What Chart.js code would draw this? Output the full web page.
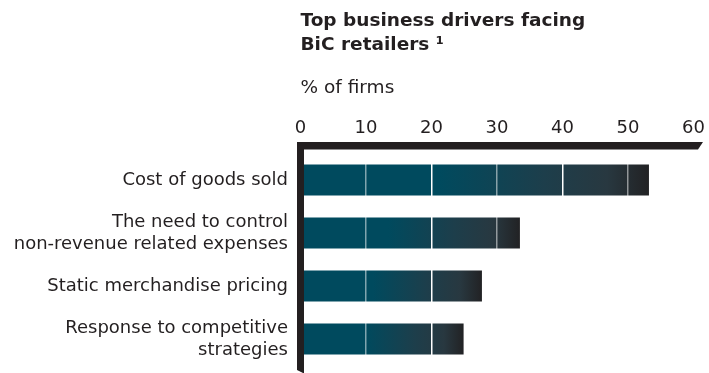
<!DOCTYPE html>
<html>
<head>
<meta charset="utf-8">
<script src="https://cdn.jsdelivr.net/npm/chart.js@4"></script>
<style>
  html, body { margin: 0; padding: 0; background: #fff; }
  #wrap { width: 709px; height: 373px; position: relative; }
</style>
</head>
<body>
<div id="wrap"><canvas id="c" width="709" height="373"></canvas></div>
<script>
// Survey results: share of firms citing each driver
const categories = [
  ['Cost of goods sold'],
  ['The need to control', 'non-revenue related expenses'],
  ['Static merchandise pricing'],
  ['Response to competitive', 'strategies']
];
const shares = [53.2, 33.5, 27.7, 24.9];
const tickValues = [0, 10, 20, 30, 40, 50, 60];

const INK = '#231f20';
const TEAL = '#004a5e';
const DARK = '#222224';
const FONT = "'DejaVu Sans', sans-serif";

// Teal-to-charcoal fill that runs along each bar's own length
function barFill(context) {
  const chart = context.chart;
  const x = chart.scales && chart.scales.x;
  if (!chart.chartArea || !x) return TEAL;
  const v = context.raw;
  const x0 = x.getPixelForValue(0);
  const x1 = x.getPixelForValue(v);
  const g = chart.ctx.createLinearGradient(x0, 0, x1, 0);
  g.addColorStop(0, TEAL);
  g.addColorStop(0.4, TEAL);
  g.addColorStop(0.7, '#1d3e4b');
  g.addColorStop(0.88, '#283840');
  g.addColorStop(1, DARK);
  return g;
}

// Heavy L-shaped frame along the top and left edges of the plot
const frame = {
  id: 'frame',
  afterDraw(chart) {
    const { ctx, chartArea: a } = chart;
    const l = a.left - 3.5, r = a.left + 3.5;
    const top = a.top - 11.5, bot = a.top - 4;
    ctx.save();
    ctx.fillStyle = INK;
    // horizontal bar with angled right end
    ctx.beginPath();
    ctx.moveTo(l, top);
    ctx.lineTo(a.right + 9.5, top);
    ctx.lineTo(a.right + 4.5, bot);
    ctx.lineTo(l, bot);
    ctx.closePath();
    ctx.fill();
    // vertical bar with angled foot
    ctx.beginPath();
    ctx.moveTo(l, top);
    ctx.lineTo(r, top);
    ctx.lineTo(r, a.bottom + 8);
    ctx.lineTo(l, a.bottom + 4.5);
    ctx.closePath();
    ctx.fill();
    ctx.restore();
  }
};

new Chart(document.getElementById('c'), {
  type: 'bar',
  data: {
    labels: categories,
    datasets: [{
      data: shares,
      backgroundColor: barFill,
      borderWidth: 0,
      barPercentage: 0.585,
      categoryPercentage: 1
    }]
  },
  options: {
    indexAxis: 'y',
    responsive: false,
    animation: false,
    layout: { padding: { top: 0, left: 0, right: 15.5, bottom: 7.5 } },
    plugins: {
      legend: { display: false },
      tooltip: { enabled: false },
      title: {
        display: true,
        fullSize: false,
        align: 'start',
        text: ['Top business drivers facing', 'BiC retailers \u00B9'],
        color: INK,
        font: { family: FONT, size: 18.5, weight: 'bold', lineHeight: 24.5 / 18.5 },
        padding: { top: 8.5, bottom: 0 }
      },
      subtitle: {
        display: true,
        fullSize: false,
        align: 'start',
        text: '% of firms',
        color: INK,
        font: { family: FONT, size: 18.5, lineHeight: 1.2 },
        padding: { top: 19.7, bottom: 0 }
      }
    },
    scales: {
      x: {
        position: 'top',
        min: 0,
        max: 60,
        afterBuildTicks(scale) {
          scale.ticks = tickValues.map(v => ({ value: v }));
        },
        afterFit(scale) {
          scale.height = 54.2;
          scale.paddingLeft = 0;
          scale.paddingRight = 0;
        },
        ticks: {
          color: INK,
          padding: 14.7,
          font: { family: FONT, size: 18, lineHeight: 1.2 },
          maxRotation: 0
        },
        grid: {
          z: 1,
          drawTicks: false,
          lineWidth: 1.5,
          color(ctx) {
            const v = ctx.tick ? ctx.tick.value : 0;
            if (v === 0 || v === 60) return 'rgba(255,255,255,0)';
            return (v / 10) % 2 === 0 ? '#ffffff' : 'rgba(255,255,255,0.5)';
          }
        },
        border: { display: false }
      },
      y: {
        afterFit(scale) {
          scale.width = 300.5;
          scale.paddingTop = 0;
          scale.paddingBottom = 0;
        },
        ticks: {
          color: INK,
          padding: 12.5,
          font: { family: FONT, size: 18, lineHeight: 22 / 18 }
        },
        grid: { display: false, drawTicks: false },
        border: { display: false }
      }
    }
  },
  plugins: [frame]
});
</script>
</body>
</html>
